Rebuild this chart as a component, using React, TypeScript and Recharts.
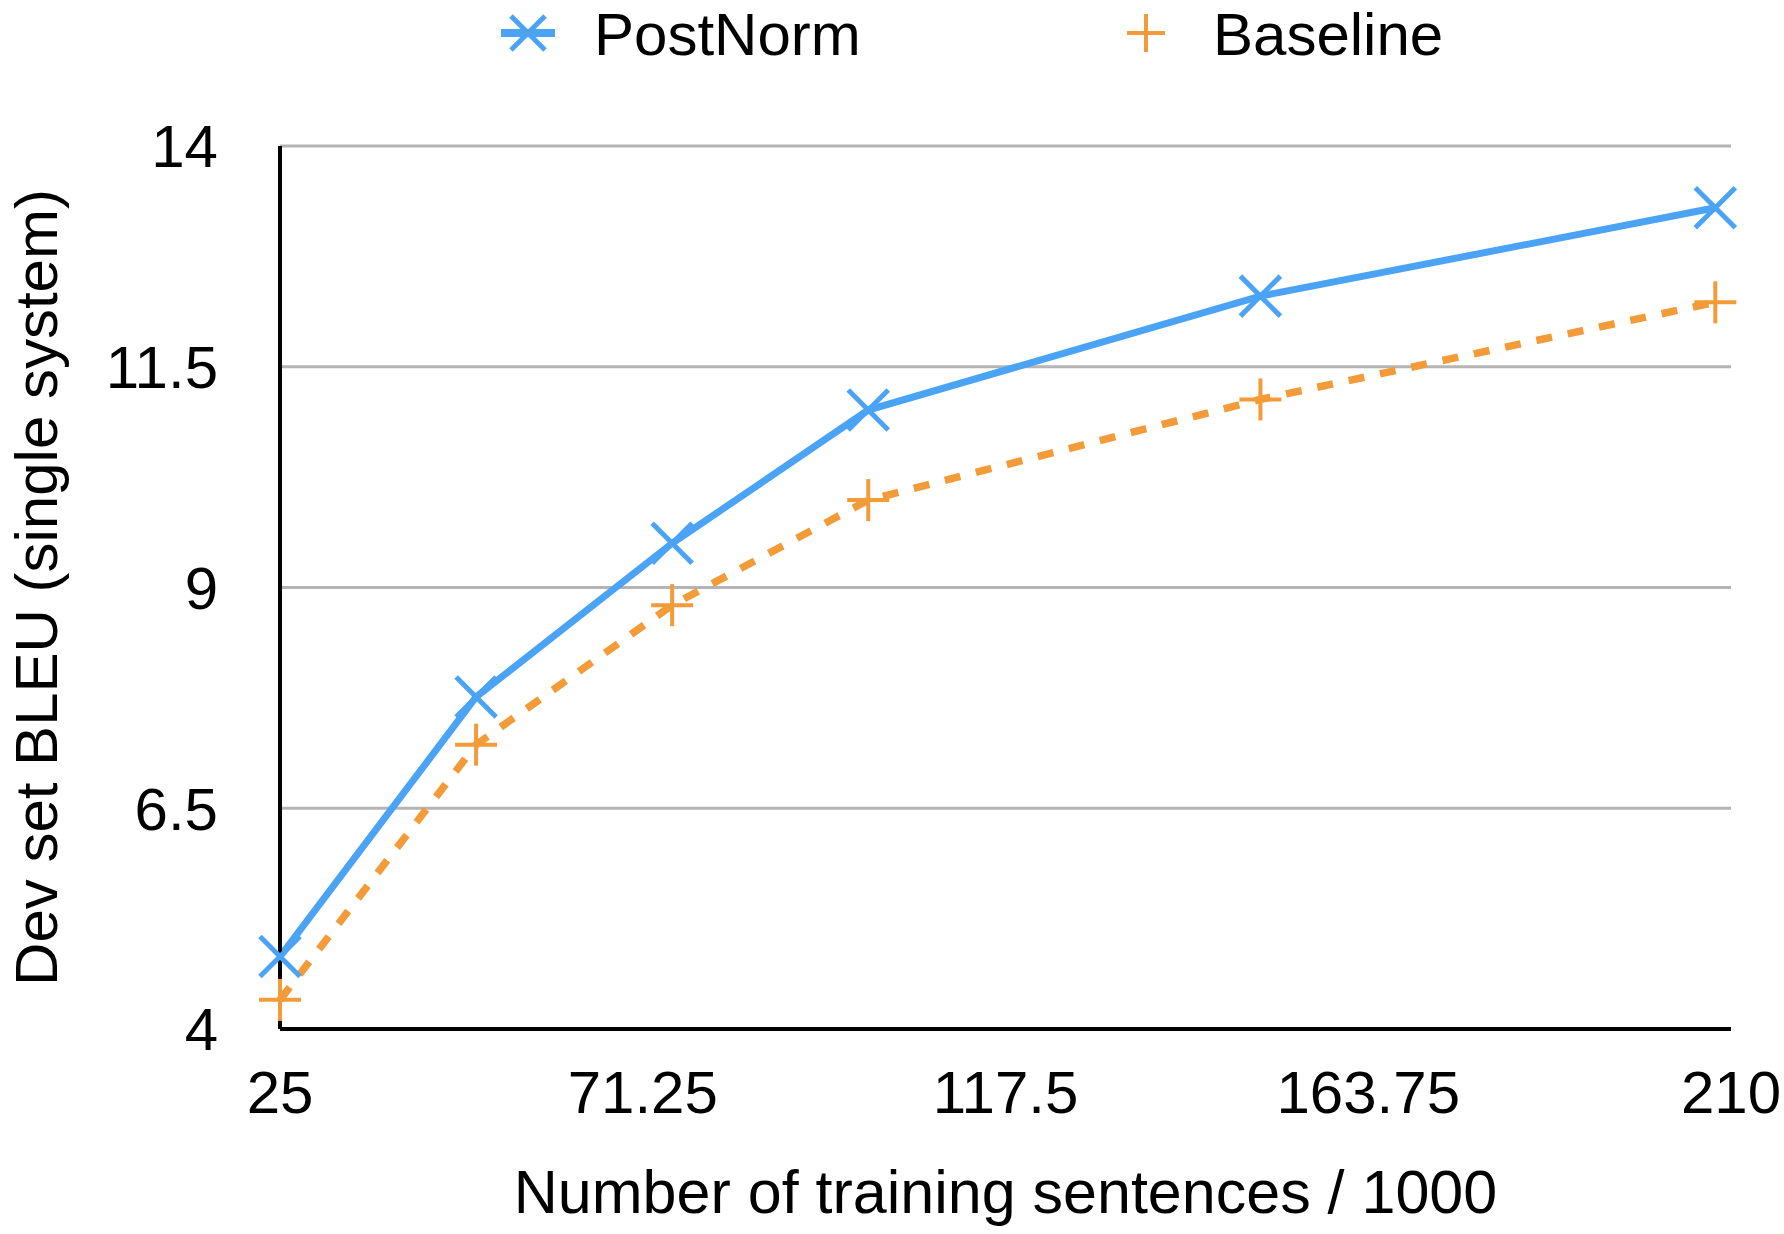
import { CartesianGrid, Label, Legend, Line, LineChart, XAxis, YAxis } from 'recharts';

const sentences = [25, 50, 75, 100, 150, 208];
const postNormBleu = [4.82, 7.76, 9.5, 11.01, 12.3, 13.3];
const baselineBleu = [4.33, 7.22, 8.8, 9.99, 11.13, 12.23];
const xTicks = [25, 71.25, 117.5, 163.75, 210];
const yTicks = [4, 6.5, 9, 11.5, 14];

const COLORS = {
    postNorm: '#4BA3F5',
    baseline: '#F29B38',
    grid: '#B4B4B4',
};

const FONT = '"Liberation Sans", Arial, Helvetica, sans-serif';

const chartData = sentences.map((n, i) => ({
    n,
    postNorm: postNormBleu[i],
    baseline: baselineBleu[i],
}));

function CrossDot({ cx, cy, size = 20, color }: { cx?: number; cy?: number; size?: number; color: string }) {
    if (cx == null || cy == null) return null;
    return (
        <g>
            <line x1={cx - size} y1={cy - size} x2={cx + size} y2={cy + size} stroke={color} strokeWidth={5} />
            <line x1={cx - size} y1={cy + size} x2={cx + size} y2={cy - size} stroke={color} strokeWidth={5} />
        </g>
    );
}

function PlusDot({ cx, cy, size = 21, color }: { cx?: number; cy?: number; size?: number; color: string }) {
    if (cx == null || cy == null) return null;
    return (
        <g>
            <line x1={cx - size} y1={cy} x2={cx + size} y2={cy} stroke={color} strokeWidth={4} />
            <line x1={cx} y1={cy - size} x2={cx} y2={cy + size} stroke={color} strokeWidth={4} />
        </g>
    );
}

function TopLegend() {
    const cy = 33;
    return (
        <svg width={1784} height={146} style={{ display: 'block', overflow: 'visible' }}>
            <line x1={501} y1={cy} x2={555} y2={cy} stroke={COLORS.postNorm} strokeWidth={8} />
            <CrossDot cx={528} cy={cy} size={17} color={COLORS.postNorm} />
            <text x={594} y={cy + 21.5} fontSize={60} fontFamily={FONT} fill="#000">
                PostNorm
            </text>
            <PlusDot cx={1146} cy={cy} size={19} color={COLORS.baseline} />
            <text x={1213} y={cy + 21.5} fontSize={60} fontFamily={FONT} fill="#000">
                Baseline
            </text>
        </svg>
    );
}

function YTitle({ viewBox }: { viewBox?: { x: number; y: number; width: number; height: number } }) {
    if (!viewBox) return null;
    const cx = 35;
    const cy = viewBox.y + viewBox.height / 2;
    return (
        <text
            x={cx}
            y={cy}
            dy="0.36em"
            transform={`rotate(-90, ${cx}, ${cy})`}
            textAnchor="middle"
            fontSize={60}
            fontFamily={FONT}
            fill="#000"
        >
            Dev set BLEU (single system)
        </text>
    );
}

export default function App() {
    return (
        <div style={{ position: 'absolute', left: 0, top: 0, width: 1784, height: 1234 }}>
            <LineChart
                width={1784}
                height={1234}
                data={chartData}
                margin={{ top: 0, right: 53, bottom: 0, left: 0 }}
                style={{ fontFamily: FONT }}
            >
                <Legend verticalAlign="top" align="left" content={<TopLegend />} />
                <CartesianGrid vertical={false} stroke={COLORS.grid} strokeWidth={3} />
                <XAxis
                    dataKey="n"
                    type="number"
                    domain={[25, 210]}
                    ticks={xTicks}
                    interval={0}
                    height={205}
                    tickLine={false}
                    tickSize={0}
                    tickMargin={41}
                    axisLine={{ stroke: '#000', strokeWidth: 4 }}
                    tick={{ fontSize: 60, fill: '#000', fontFamily: FONT }}
                >
                    <Label
                        value="Number of training sentences / 1000"
                        position="insideBottom"
                        offset={21}
                        style={{ fontSize: 61, fill: '#000', fontFamily: FONT }}
                    />
                </XAxis>
                <YAxis
                    type="number"
                    domain={[4, 14]}
                    ticks={yTicks}
                    interval={0}
                    width={280}
                    tickLine={false}
                    tickSize={0}
                    tickMargin={62}
                    axisLine={{ stroke: '#000', strokeWidth: 4 }}
                    tick={{ fontSize: 60, fill: '#000', fontFamily: FONT }}
                >
                    <Label content={<YTitle />} />
                </YAxis>
                <Line
                    dataKey="baseline"
                    name="Baseline"
                    stroke={COLORS.baseline}
                    strokeWidth={7.5}
                    strokeDasharray="16 16"
                    dot={(p: any) => <PlusDot key={`b-${p.index}`} cx={p.cx} cy={p.cy} color={COLORS.baseline} />}
                    activeDot={false}
                    isAnimationActive={false}
                />
                <Line
                    dataKey="postNorm"
                    name="PostNorm"
                    stroke={COLORS.postNorm}
                    strokeWidth={7}
                    dot={(p: any) => <CrossDot key={`p-${p.index}`} cx={p.cx} cy={p.cy} color={COLORS.postNorm} />}
                    activeDot={false}
                    isAnimationActive={false}
                />
            </LineChart>
        </div>
    );
}
